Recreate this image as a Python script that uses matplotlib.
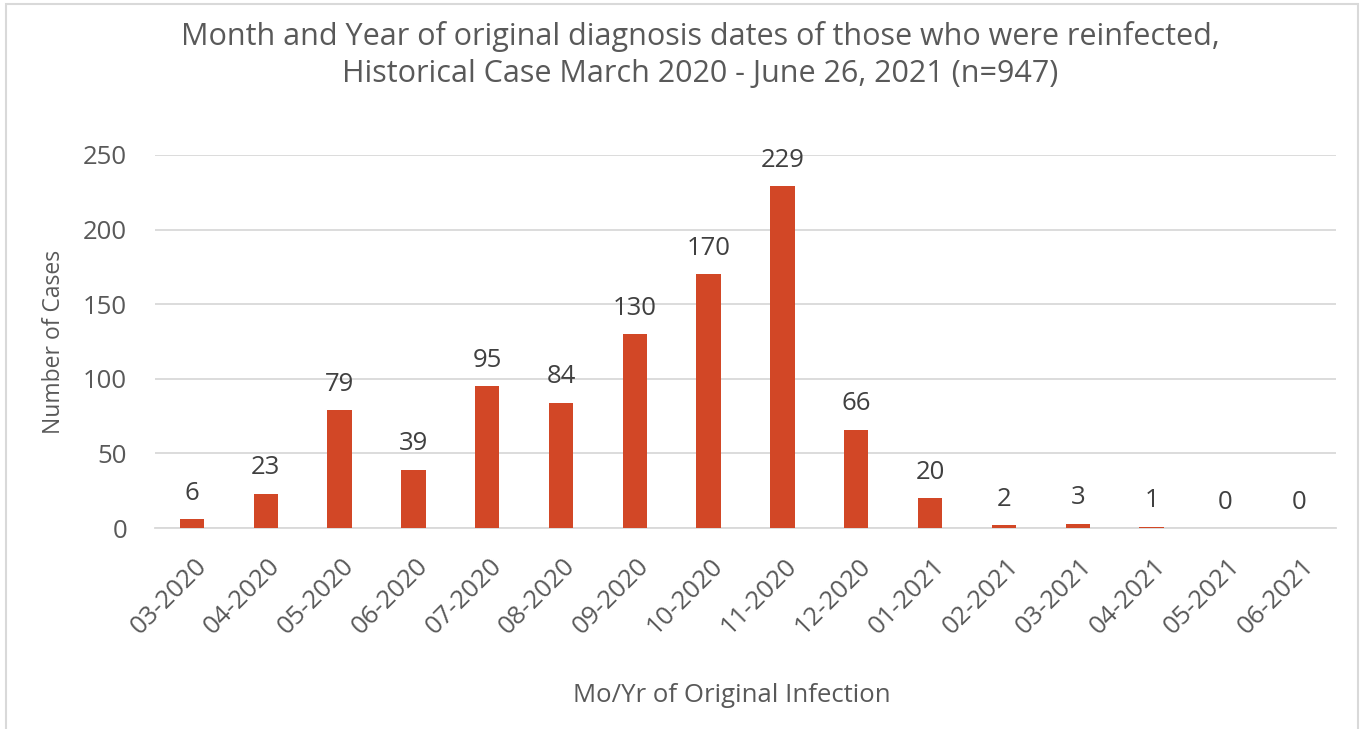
import matplotlib.pyplot as plt
import matplotlib.transforms as mtransforms
from matplotlib.patches import Rectangle

months = ["03-2020", "04-2020", "05-2020", "06-2020", "07-2020", "08-2020",
          "09-2020", "10-2020", "11-2020", "12-2020", "01-2021", "02-2021",
          "03-2021", "04-2021", "05-2021", "06-2021"]
cases = [6, 23, 79, 39, 95, 84, 130, 170, 229, 66, 20, 2, 3, 1, 0, 0]
yticks = [0, 50, 100, 150, 200, 250]

text_col = "#595959"
bar_col = "#D24726"
grid_col = "#D9D9D9"

plt.rcParams['font.family'] = ['Open Sans', 'DejaVu Sans']

fig = plt.figure(figsize=(13.65, 7.29), dpi=100)
ax = fig.add_axes([0.1136, 0.2757, 0.8652, 0.5117])

x = range(len(months))
ax.bar(x, cases, width=0.33, color=bar_col, zorder=3)
for xi, v in zip(x, cases):
    ax.text(xi, v + 9, str(v), ha='center', va='bottom', fontsize=18.5, color="#404040")

ax.set_xlim(-0.5, len(months) - 0.5)
ax.set_ylim(0, 250)
ax.set_yticks(yticks)
ax.set_xticks(list(x))
ax.set_xticklabels(months, rotation=45, ha='right', rotation_mode='anchor')
ax.tick_params(axis='both', length=0, labelsize=18.5, colors=text_col)
ax.tick_params(axis='y', pad=20)
ax.tick_params(axis='x', pad=18)
# shift rotated labels a touch to the right, like the original
offset = mtransforms.ScaledTranslation(2 / 100, 0, fig.dpi_scale_trans)
for lbl in ax.get_xticklabels():
    lbl.set_transform(lbl.get_transform() + offset)
ax.grid(axis='y', color=grid_col, linewidth=1.3, zorder=0)
for s in ['top', 'right', 'left']:
    ax.spines[s].set_visible(False)
ax.spines['bottom'].set_color(grid_col)
ax.spines['bottom'].set_linewidth(1.3)

ax.set_ylabel("Number of Cases", fontsize=16.5, color=text_col, labelpad=12)
fig.text(0.536, 0.046, "Mo/Yr of Original Infection", ha='center', va='center',
         fontsize=18.5, color=text_col)
fig.text(0.513, 0.925, "Month and Year of original diagnosis dates of those who were reinfected,\n"
         "Historical Case March 2020 - June 26, 2021 (n=947)",
         ha='center', va='center', fontsize=22, color=text_col, linespacing=1.3)

fig.patches.append(Rectangle((6 / 1365, -0.01), 1352 / 1365, 1 - 4 / 729 + 0.01,
                             transform=fig.transFigure, fill=False,
                             edgecolor=grid_col, linewidth=1.5))

fig.savefig("out.png", dpi=100)
